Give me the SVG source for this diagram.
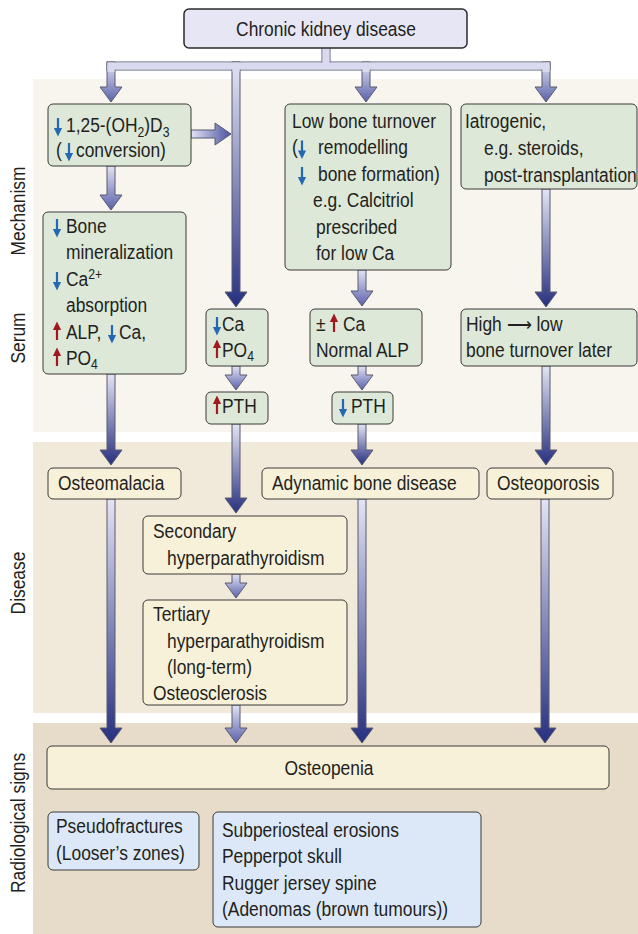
<svg xmlns="http://www.w3.org/2000/svg" width="638" height="934" viewBox="0 0 638 934">
<defs>
<linearGradient id="gV" x1="0" y1="0" x2="0" y2="1"><stop offset="0" stop-color="#e3e4f4"/><stop offset="1" stop-color="#27307f"/></linearGradient>
<linearGradient id="gS" x1="0" y1="0" x2="0" y2="1"><stop offset="0" stop-color="#e3e4f4"/><stop offset="1" stop-color="#5a61aa"/></linearGradient>
<linearGradient id="gH" x1="0" y1="0" x2="1" y2="0"><stop offset="0" stop-color="#e3e4f4"/><stop offset="1" stop-color="#4a52a0"/></linearGradient>
<path id="dn" d="M-1.1,-14 h2.2 v10 h3 l-4.1,8.5 l-4.1,-8.5 h3 z" fill="#2468b4"/>
<path id="up" d="M-1.1,1 h2.2 v-10 h3 l-4.1,-8.5 l-4.1,8.5 h3 z" fill="#a1191f"/>
<style>
text{font-family:"Liberation Sans",Arial,sans-serif;font-size:20px;fill:#231f20}
.sub{font-size:14px}
.lab{text-anchor:middle}
.box{stroke:#3a3a3a;stroke-width:1}
.g{fill:#dde8d8}
.c{fill:#f8f1d9}
.b{fill:#dce8f7}
.arr{stroke:#5a5b6e;stroke-width:1}
.v{fill:url(#gV)}
.s{fill:url(#gS)}
.h{fill:url(#gH)}
.cover{fill:#d9daef}
</style>
</defs>

<g id="bands">
<rect x="33" y="79" width="605" height="353" fill="#f8f5ee"/>
<rect x="33" y="442" width="605" height="271" fill="#f1e9da"/>
<rect x="33" y="723" width="605" height="211" fill="#e6dcc9"/>
<text class="lab" transform="translate(25,211) rotate(-90) scale(0.87,1)">Mechanism</text>
<text class="lab" transform="translate(25,338) rotate(-90) scale(0.87,1)">Serum</text>
<text class="lab" transform="translate(25,583) rotate(-90) scale(0.87,1)">Disease</text>
<text class="lab" transform="translate(25,823) rotate(-90) scale(0.87,1)">Radiological signs</text>
</g>

<g id="connectors">
<rect class="arr cover" x="107" y="62" width="443" height="8"/>
<rect class="arr cover" x="322" y="47" width="8" height="16"/>
<path class="arr s" d="M107,62 V87 H100 L111,102 L122,87 H115 V62 Z"/>
<path class="arr v" d="M232,62 V292 H225 L236,307 L247,292 H240 V62 Z"/>
<path class="arr s" d="M362,62 V87 H355 L366,102 L377,87 H370 V62 Z"/>
<path class="arr s" d="M542,62 V87 H535 L546,102 L557,87 H550 V62 Z"/>
<rect class="cover" x="107.5" y="62.5" width="442" height="7"/>
<rect class="cover" x="322.5" y="47.5" width="7" height="16"/>
<rect class="cover" x="107.5" y="66" width="7" height="6"/>
<rect class="cover" x="232.5" y="66" width="7" height="6"/>
<rect class="cover" x="362.5" y="66" width="7" height="6"/>
<rect class="cover" x="542.5" y="66" width="7" height="6"/>
<path class="arr h" d="M191,130 H215 V123 L231,134 L215,145 V138 H191 Z"/>
<path class="arr s" d="M107,166 V195 H100 L111,210 L122,195 H115 V166 Z"/>
<path class="arr s" d="M358,270 V291 H351 L362,306 L373,291 H366 V270 Z"/>
<path class="arr v" d="M542,189 V292 H535 L546,307 L557,292 H550 V189 Z"/>
<path class="arr s" d="M232,366 V375 H225 L236,390 L247,375 H240 V366 Z"/>
<path class="arr s" d="M358,366 V375 H351 L362,390 L373,375 H366 V366 Z"/>
<path class="arr v" d="M107,374 V450 H100 L111,465 L122,450 H115 V374 Z"/>
<path class="arr v" d="M232,424 V498 H225 L236,513 L247,498 H240 V424 Z"/>
<path class="arr v" d="M358,424 V450 H351 L362,465 L373,450 H366 V424 Z"/>
<path class="arr v" d="M542,366 V450 H535 L546,465 L557,450 H550 V366 Z"/>
<path class="arr s" d="M232,574 V583 H225 L236,598 L247,583 H240 V574 Z"/>
<path class="arr v" d="M107,499 V728 H100 L111,743 L122,728 H115 V499 Z"/>
<path class="arr s" d="M232,705 V728 H225 L236,743 L247,728 H240 V705 Z"/>
<path class="arr v" d="M358,499 V728 H351 L362,743 L373,728 H366 V499 Z"/>
<path class="arr v" d="M541,499 V728 H534 L545,743 L556,728 H549 V499 Z"/>
</g>

<g id="ckd">
<rect x="184" y="9" width="283" height="39" rx="5" fill="#e7e6f4" stroke="#2b2b2b" stroke-width="1.5"/>
<text x="326" y="36" text-anchor="middle" transform="matrix(.87 0 0 1 42.38 0)">Chronic kidney disease</text>
</g>

<g id="vitd">
<rect class="box g" x="48" y="104" width="143" height="62" rx="5"/>
<use href="#dn" x="58" y="132"/>
<text x="66" y="132" transform="matrix(.87 0 0 1 8.58 0)">1,25-(OH<tspan class="sub" dy="5">2</tspan><tspan dy="-5">)D</tspan><tspan class="sub" dy="5">3</tspan></text>
<text x="56" y="157" transform="matrix(.87 0 0 1 7.28 0)">(<tspan x="79">conversion)</tspan></text>
<use href="#dn" x="69" y="157"/>
</g>

<g id="bonemin">
<rect class="box g" x="43" y="212" width="143" height="162" rx="5"/>
<use href="#dn" x="57" y="233"/>
<text x="66" y="233" transform="matrix(.87 0 0 1 8.58 0)">Bone</text>
<text x="66" y="259.5" transform="matrix(.87 0 0 1 8.58 0)">mineralization</text>
<use href="#dn" x="57" y="286"/>
<text x="66" y="286" transform="matrix(.87 0 0 1 8.58 0)">Ca<tspan class="sub" dy="-7">2+</tspan></text>
<text x="66" y="312.5" transform="matrix(.87 0 0 1 8.58 0)">absorption</text>
<use href="#up" x="57" y="339"/>
<text x="66" y="339" transform="matrix(.87 0 0 1 8.58 0)">ALP, <tspan x="126.9">Ca,</tspan></text>
<use href="#dn" x="112" y="339"/>
<use href="#up" x="57" y="365"/>
<text x="66" y="365" transform="matrix(.87 0 0 1 8.58 0)">PO<tspan class="sub" dy="4">4</tspan></text>
</g>

<g id="lowturn">
<rect class="box g" x="285" y="104" width="166" height="166" rx="5"/>
<text x="292" y="128" transform="matrix(.87 0 0 1 37.96 0)">Low bone turnover</text>
<text x="292" y="154.5" transform="matrix(.87 0 0 1 37.96 0)">(<tspan x="321.9">remodelling</tspan></text>
<use href="#dn" x="302" y="154.5"/>
<use href="#dn" x="302" y="181"/>
<text x="318" y="181" transform="matrix(.87 0 0 1 41.34 0)">bone formation)</text>
<text x="313" y="207.5" transform="matrix(.87 0 0 1 40.69 0)">e.g. Calcitriol</text>
<text x="316" y="234" transform="matrix(.87 0 0 1 41.08 0)">prescribed</text>
<text x="316" y="260.5" transform="matrix(.87 0 0 1 41.08 0)">for low Ca</text>
</g>

<g id="iatro">
<rect class="box g" x="461" y="104" width="176" height="85" rx="5"/>
<text x="465" y="128" transform="matrix(.87 0 0 1 60.45 0)">Iatrogenic,</text>
<text x="484" y="155" transform="matrix(.87 0 0 1 62.92 0)">e.g. steroids,</text>
<text x="484" y="182" transform="matrix(.87 0 0 1 62.92 0)">post-transplantation</text>
</g>

<g id="serum1">
<rect class="box g" x="206" y="309" width="62" height="57" rx="5"/>
<use href="#dn" x="217" y="331"/>
<text x="222" y="331" transform="matrix(.87 0 0 1 28.86 0)">Ca</text>
<use href="#up" x="217" y="357"/>
<text x="222" y="357" transform="matrix(.87 0 0 1 28.86 0)">PO<tspan class="sub" dy="4">4</tspan></text>
</g>

<g id="pthup">
<rect class="box g" x="206" y="392" width="62" height="32" rx="5"/>
<use href="#up" x="217" y="413"/>
<text x="222" y="413" transform="matrix(.87 0 0 1 28.86 0)">PTH</text>
</g>

<g id="serum2">
<rect class="box g" x="310" y="309" width="112" height="57" rx="5"/>
<text x="316" y="331" transform="matrix(.87 0 0 1 41.08 0)">±<tspan x="347">Ca</tspan></text>
<use href="#up" x="334" y="331"/>
<text x="316" y="357" transform="matrix(.87 0 0 1 41.08 0)">Normal ALP</text>
</g>

<g id="pthdown">
<rect class="box g" x="332" y="392" width="61" height="32" rx="5"/>
<use href="#dn" x="343" y="413"/>
<text x="351" y="413" transform="matrix(.87 0 0 1 45.63 0)">PTH</text>
</g>

<g id="hightolow">
<rect class="box g" x="461" y="309" width="176" height="57" rx="5"/>
<text x="466" y="331" transform="matrix(.87 0 0 1 60.58 0)">High ⟶ low</text>
<text x="466" y="357" transform="matrix(.87 0 0 1 60.58 0)">bone turnover later</text>
</g>

<g id="osteomalacia">
<rect class="box c" x="48" y="468" width="133" height="31" rx="5"/>
<text x="58" y="490" transform="matrix(.87 0 0 1 7.54 0)">Osteomalacia</text>
</g>

<g id="adynamic">
<rect class="box c" x="262" y="468" width="217" height="31" rx="5"/>
<text x="272" y="490" transform="matrix(.87 0 0 1 35.36 0)">Adynamic bone disease</text>
</g>

<g id="osteoporosis">
<rect class="box c" x="487" y="468" width="126" height="31" rx="5"/>
<text x="497" y="490" transform="matrix(.87 0 0 1 64.61 0)">Osteoporosis</text>
</g>

<g id="secondary">
<rect class="box c" x="143" y="516" width="204" height="58" rx="5"/>
<text x="153" y="538" transform="matrix(.87 0 0 1 19.89 0)">Secondary</text>
<text x="167" y="565" transform="matrix(.87 0 0 1 21.71 0)">hyperparathyroidism</text>
</g>

<g id="tertiary">
<rect class="box c" x="143" y="600" width="204" height="105" rx="5"/>
<text x="153" y="621" transform="matrix(.87 0 0 1 19.89 0)">Tertiary</text>
<text x="167" y="648" transform="matrix(.87 0 0 1 21.71 0)">hyperparathyroidism</text>
<text x="167" y="674" transform="matrix(.87 0 0 1 21.71 0)">(long-term)</text>
<text x="153" y="700" transform="matrix(.87 0 0 1 19.89 0)">Osteosclerosis</text>
</g>

<g id="osteopenia">
<rect class="box c" x="47" y="746" width="562" height="43" rx="5"/>
<text x="329" y="775" text-anchor="middle" transform="matrix(.87 0 0 1 42.77 0)">Osteopenia</text>
</g>

<g id="pseudo">
<rect class="box b" x="48" y="812" width="151" height="58" rx="5"/>
<text x="56" y="833" transform="matrix(.87 0 0 1 7.28 0)">Pseudofractures</text>
<text x="56" y="860" transform="matrix(.87 0 0 1 7.28 0)">(Looser’s zones)</text>
</g>

<g id="subperi">
<rect class="box b" x="213" y="812" width="268" height="115" rx="5"/>
<text x="222" y="837" transform="matrix(.87 0 0 1 28.86 0)">Subperiosteal erosions</text>
<text x="222" y="863.5" transform="matrix(.87 0 0 1 28.86 0)">Pepperpot skull</text>
<text x="222" y="890" transform="matrix(.87 0 0 1 28.86 0)">Rugger jersey spine</text>
<text x="222" y="916.5" transform="matrix(.87 0 0 1 28.86 0)">(Adenomas (brown tumours))</text>
</g>
</svg>
